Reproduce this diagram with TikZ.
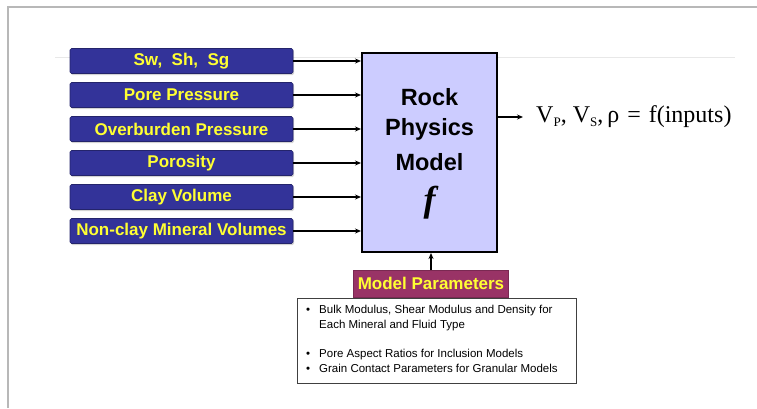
\documentclass[tikz,border=0pt]{standalone}
\usepackage{fontspec}
\setmainfont{Liberation Serif}
\setsansfont{Liberation Sans}
\newfontfamily\fserif{Liberation Serif}
\usetikzlibrary{arrows.meta,shadows}
\definecolor{inblue}{HTML}{333399}
\definecolor{lav}{HTML}{CCCCFF}
\definecolor{mpar}{HTML}{993366}
\definecolor{yel}{HTML}{FFFF33}
\newcommand{\lowsub}[1]{\raisebox{-0.35ex}{\fontsize{13}{14}\selectfont #1}}
\tikzset{
  inbox/.style={draw=inblue!70!black, line width=0.6pt, fill=inblue, rounded corners=1.5pt,
    minimum width=223pt, minimum height=25pt, inner sep=0pt, text=yel,
    font=\sffamily\bfseries\fontsize{17}{19}\selectfont,
    drop shadow={shadow xshift=1pt, shadow yshift=-1.5pt, opacity=0.35}},
  arr/.style={line width=1.4pt, -{Stealth[length=6pt,width=5pt]}},
  bigtxt/.style={font=\sffamily\bfseries\fontsize{23.5}{26}\selectfont, inner sep=0pt},
}
\begin{document}
\begin{tikzpicture}[x=1pt,y=-1pt]
\useasboundingbox (0,0) rectangle (757,408);
% frame
\draw[line width=2pt, color=black!28] (8,408) -- (8,7) -- (757,7);
\draw[line width=0.8pt, color=black!9] (55,57) -- (735,57);
% input boxes
\node[inbox] (in1) at (181.5,61) {Sw,\ \ Sh,\ \ Sg};
\node[inbox] (in2) at (181.5,95) {Pore Pressure};
\node[inbox] (in3) at (181.5,129) {Overburden Pressure};
\node[inbox] (in4) at (181.5,163) {Porosity};
\node[inbox] (in5) at (181.5,197) {Clay Volume};
\node[inbox] (in6) at (181.5,231) {Non-clay Mineral Volumes};
% model box
\node[draw=black, line width=2pt, fill=lav, minimum width=135pt, minimum height=199pt, inner sep=0pt] (model) at (429.5,152.5) {};
\node[bigtxt] (rock) at (429.5,97) {Rock};
\node[bigtxt] (phys) at (429.5,129.5) {Physics};
\node[bigtxt] (mdl) at (429.5,162) {Model};
\node[inner sep=0pt, font=\fserif\bfseries\itshape\fontsize{36}{38}\selectfont] (fsym) at (429.5,203) {f};
% input arrows
\foreach \i in {1,...,6} {
  \draw[arr] (in\i.east) -- (in\i.east -| model.west);
}
% output
\coordinate (outend) at (523,117);
\draw[arr] (model.east |- outend) -- (outend);
\node[anchor=west, inner sep=0pt, font=\fserif\fontsize{24}{26}\selectfont] (outtxt) at (536,117)
  {V\lowsub{P},\hspace{6pt}V\lowsub{S},\hspace{4pt}ρ\hspace{8pt}=\hspace{8pt}f(inputs)};
% model parameters
\node[fill=mpar, draw=mpar!80!black, line width=0.6pt, minimum width=155pt, minimum height=27pt, inner sep=0pt,
  text=yel, font=\sffamily\bfseries\fontsize{17}{19}\selectfont] (mp) at (431,283.5) {Model Parameters};
\draw[arr] (mp.north) -- (mp.north |- model.south);
% parameter list
\node[draw=black!75, line width=0.8pt, minimum width=279pt, minimum height=85pt, inner sep=0pt, anchor=north west] (plist) at (297,298) {};
\node[anchor=north west, inner sep=0pt, font=\sffamily\fontsize{11.5}{15.5}\selectfont, align=left] (ptxt) at (306,302)
  {\begin{tabular}{@{}l@{\hspace{9pt}}l@{}}
   •& Bulk Modulus, Shear Modulus and Density for\\
    & Each Mineral and Fluid Type\\[13pt]
   •& Pore Aspect Ratios for Inclusion Models\\
   •& Grain Contact Parameters for Granular Models
   \end{tabular}};
\end{tikzpicture}
\end{document}
